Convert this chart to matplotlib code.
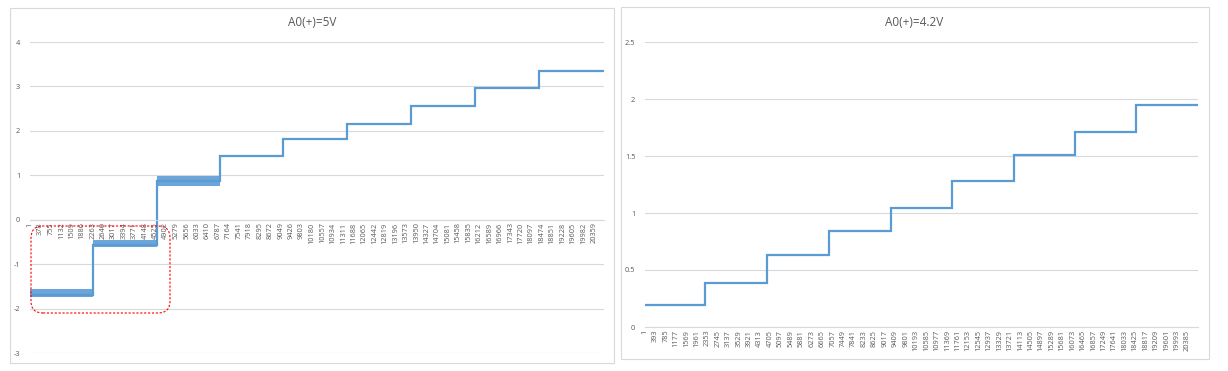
import matplotlib
matplotlib.use("Agg")
import matplotlib.pyplot as plt
from matplotlib.patches import Rectangle, FancyBboxPatch
from matplotlib.transforms import IdentityTransform

# ---------------- data ----------------
left_title = "A0(+)=5V"
left_n = 20720
left_step_starts = [1, 2290, 4570, 6870, 9140, 11430, 13760, 16080, 18380]
left_levels = [-1.70, -0.56, 0.87, 1.44, 1.82, 2.16, 2.57, 2.97, 3.35]
left_band_lo = [-1.75, -0.62, 0.77, 1.42, 1.80, 2.14, 2.55, 2.95, 3.33]
left_band_hi = [-1.57, -0.45, 0.98, 1.46, 1.84, 2.18, 2.59, 2.99, 3.37]
left_tick_labels = list(range(1, 20360, 377))
left_yticks = [-3, -2, -1, 0, 1, 2, 3, 4]

right_title = "A0(+)=4.2V"
right_n = 20790
right_step_starts = [1, 2270, 4600, 6900, 9230, 11530, 13870, 16170, 18460]
right_levels = [0.193, 0.383, 0.630, 0.843, 1.043, 1.283, 1.505, 1.713, 1.945]
right_band_lo = [0.188, 0.378, 0.625, 0.838, 1.036, 1.276, 1.498, 1.706, 1.938]
right_band_hi = [0.198, 0.388, 0.635, 0.848, 1.050, 1.290, 1.512, 1.720, 1.952]
right_tick_labels = list(range(1, 20386, 392))
right_yticks = [0, 0.5, 1, 1.5, 2, 2.5]
right_ytick_text = ["0", "0.5", "1", "1.5", "2", "2.5"]

# ---------------- style ----------------
W, H = 1228, 371
LINE = "#5B9BD5"
GRID = "#D9D9D9"
TXT = "#595959"
plt.rcParams["font.family"] = ["Open Sans", "DejaVu Sans"]

fig = plt.figure(figsize=(W / 100, H / 100), dpi=100)


def fx(px):
    return px / W


def fy(py):
    return 1 - py / H


# panel borders
fig.patches.append(Rectangle((fx(10), fy(363)), fx(604), 355 / H, transform=fig.transFigure,
                             fill=False, edgecolor=GRID, linewidth=0.8))
fig.patches.append(Rectangle((fx(621), fy(359)), fx(588), 352 / H, transform=fig.transFigure,
                             fill=False, edgecolor=GRID, linewidth=0.8))


def draw(ax, n, starts, levels, lo, hi, ticks, ylim, yticks, ytext):
    edges = list(starts) + [n]
    ax.spines["bottom"].set_position(("data", 0))
    ax.fill_between(edges, list(lo) + [lo[-1]], list(hi) + [hi[-1]], step="post",
                    color=LINE, alpha=0.9, linewidth=0)
    ax.stairs(levels, edges, baseline=None, color=LINE, linewidth=1.6)
    ax.set_xlim(0, n)
    ax.set_ylim(*ylim)
    ax.set_yticks(yticks)
    ax.set_yticklabels(ytext)
    ax.grid(axis="y", color=GRID, linewidth=0.8)
    ax.set_axisbelow(True)
    ax.set_xticks(ticks)
    ax.set_xticklabels([str(t) for t in ticks], rotation=90, va="top")
    for s in ["top", "right", "left"]:
        ax.spines[s].set_visible(False)
    ax.spines["bottom"].set_color(GRID)
    ax.spines["bottom"].set_linewidth(0.8)
    ax.tick_params(axis="x", length=0, pad=2, labelsize=5.3, labelcolor=TXT)
    ax.tick_params(axis="y", length=0, pad=7, labelsize=5.3, labelcolor=TXT)


axL = fig.add_axes([fx(30), fy(353), 574 / W, 311 / H])
draw(axL, left_n, left_step_starts, left_levels, left_band_lo, left_band_hi,
     left_tick_labels, (-3, 4), left_yticks, [str(v) for v in left_yticks])

axR = fig.add_axes([fx(645), fy(327), 553 / W, 285 / H])
draw(axR, right_n, right_step_starts, right_levels, right_band_lo, right_band_hi,
     right_tick_labels, (0, 2.5), right_yticks, right_ytick_text)

fig.text(fx(312), fy(22), left_title, ha="center", va="center", fontsize=8.5, color=TXT)
fig.text(fx(914), fy(22), right_title, ha="center", va="center", fontsize=8.5, color=TXT)

# dashed red rounded highlight box on the left chart (pixel coordinates)
fig.patches.append(FancyBboxPatch((31, H - 313), 139, 87,
                                  boxstyle="round,pad=0,rounding_size=12",
                                  transform=IdentityTransform(), fill=False,
                                  edgecolor="#FF0000", linestyle=(0, (2, 1.5)), linewidth=0.8))

fig.savefig("out.png", dpi=100)
